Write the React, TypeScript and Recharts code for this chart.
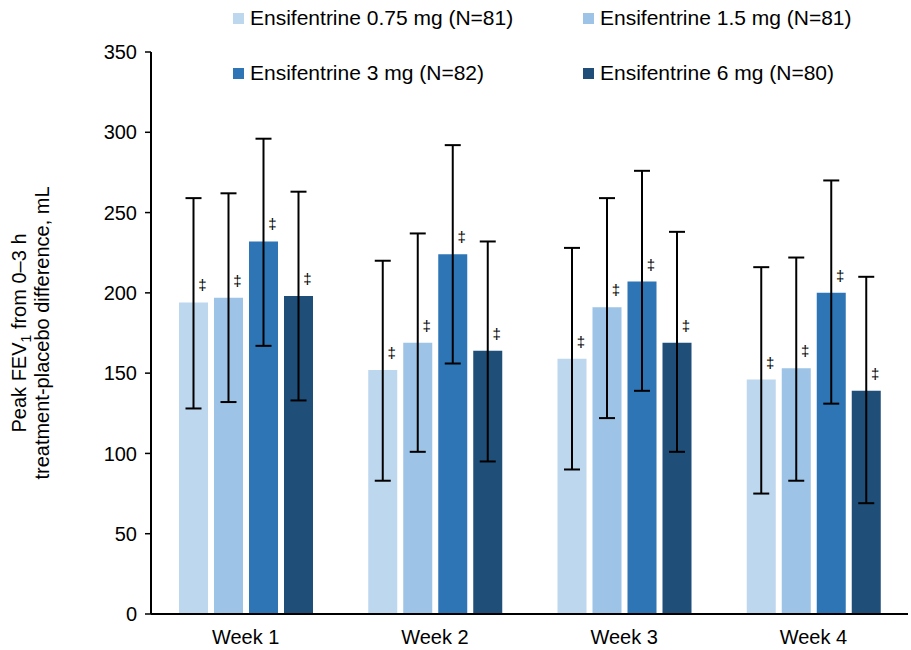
import React from 'react'
import { Bar, BarChart, ErrorBar, LabelList, XAxis, YAxis } from 'recharts'

const weeks = ['Week 1', 'Week 2', 'Week 3', 'Week 4']

const dose075 = [194, 152, 159, 146]
const dose075Lo = [128, 83, 90, 75]
const dose075Hi = [259, 220, 228, 216]

const dose15 = [197, 169, 191, 153]
const dose15Lo = [132, 101, 122, 83]
const dose15Hi = [262, 237, 259, 222]

const dose3 = [232, 224, 207, 200]
const dose3Lo = [167, 156, 139, 131]
const dose3Hi = [296, 292, 276, 270]

const dose6 = [198, 164, 169, 139]
const dose6Lo = [133, 95, 101, 69]
const dose6Hi = [263, 232, 238, 210]

const yTicks = [0, 50, 100, 150, 200, 250, 300, 350]

const series = [
  { key: 'd075', name: 'Ensifentrine 0.75 mg (N=81)', color: '#BDD7EE', v: dose075, lo: dose075Lo, hi: dose075Hi },
  { key: 'd15', name: 'Ensifentrine 1.5 mg (N=81)', color: '#9DC3E6', v: dose15, lo: dose15Lo, hi: dose15Hi },
  { key: 'd3', name: 'Ensifentrine 3 mg (N=82)', color: '#2E75B6', v: dose3, lo: dose3Lo, hi: dose3Hi },
  { key: 'd6', name: 'Ensifentrine 6 mg (N=80)', color: '#1F4E79', v: dose6, lo: dose6Lo, hi: dose6Hi },
]

const data = weeks.map((week, i) => {
  const row: Record<string, any> = { week }
  series.forEach((s) => {
    row[s.key] = s.v[i]
    row[s.key + 'Err'] = [s.v[i] - s.lo[i], s.hi[i] - s.v[i]]
  })
  return row
})

const FONT = '"Liberation Sans", Arial, sans-serif'

function DaggerLabel(props: any) {
  const { x, y, width } = props
  return (
    <text
      x={x + width / 2 + 9}
      y={y - 12}
      textAnchor="middle"
      fontSize={15}
      fontFamily={FONT}
      fill="#000"
      stroke="none"
    >
      ‡
    </text>
  )
}

function YLabel() {
  const cy = 333
  return (
    <g fontFamily={FONT} fontSize={20} fill="#000">
      <text transform={`translate(26, ${cy}) rotate(-90)`} textAnchor="middle">
        Peak FEV<tspan dy={5} fontSize={14}>1</tspan>
        <tspan dy={-5}> from 0–3 h</tspan>
      </text>
      <text transform={`translate(49, ${cy}) rotate(-90)`} textAnchor="middle">
        treatment-placebo difference, mL
      </text>
    </g>
  )
}

// legend sits over the top of the chart, two columns
const legendPos = [
  { left: 233, top: 5 },
  { left: 583, top: 5 },
  { left: 233, top: 60 },
  { left: 583, top: 60 },
]

export default function App() {
  return (
    <div style={{ position: 'absolute', left: 0, top: 0, width: 911, height: 650, background: '#fff' }}>
      <BarChart
        width={911}
        height={650}
        data={data}
        margin={{ top: 52, right: 3, bottom: 6, left: 0 }}
        barSize={29}
        barGap={6}
      >
        <XAxis
          dataKey="week"
          height={30}
          tickLine={false}
          axisLine={{ stroke: '#000', strokeWidth: 2 }}
          tick={{ fontSize: 20, fill: '#000', fontFamily: FONT }}
          tickMargin={10}
        />
        <YAxis
          width={151}
          domain={[0, 350]}
          ticks={yTicks}
          interval={0}
          axisLine={{ stroke: '#000', strokeWidth: 2 }}
          tickLine={{ stroke: '#000', strokeWidth: 1.5 }}
          tickSize={6}
          tickMargin={8}
          tick={{ fontSize: 20, fill: '#000', fontFamily: FONT }}
          label={{ content: <YLabel /> }}
        />
        {series.map((s) => (
          <Bar key={s.key} dataKey={s.key} name={s.name} fill={s.color} isAnimationActive={false}>
            <ErrorBar
              dataKey={s.key + 'Err'}
              direction="y"
              width={8}
              stroke="#000"
              strokeWidth={2}
              isAnimationActive={false}
            />
            <LabelList dataKey={s.key} content={<DaggerLabel />} />
          </Bar>
        ))}
      </BarChart>
      {series.map((s, i) => (
        <div
          key={s.key}
          style={{
            position: 'absolute',
            left: legendPos[i].left,
            top: legendPos[i].top,
            display: 'flex',
            alignItems: 'center',
            fontFamily: FONT,
            fontSize: 21,
            color: '#000',
            whiteSpace: 'nowrap',
            lineHeight: '26px',
          }}
        >
          <span style={{ width: 11, height: 11, background: s.color, marginRight: 6, display: 'inline-block' }} />
          {s.name}
        </div>
      ))}
    </div>
  )
}
